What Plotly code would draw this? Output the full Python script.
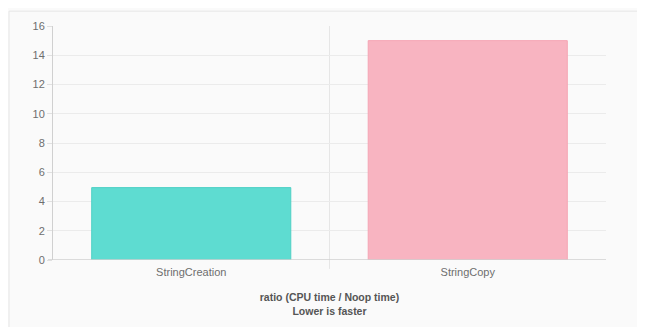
import plotly.graph_objects as go

categories = ["StringCreation", "StringCopy"]
values = [4.95, 15.0]
bar_colors = ["#5EDCD1", "#F8B4C1"]
line_colors = ["#4FD0C5", "#F5A5B4"]
y_ticks = [0, 2, 4, 6, 8, 10, 12, 14, 16]

fig = go.Figure()
fig.add_trace(go.Bar(
    x=categories, y=values, width=0.72,
    marker=dict(color=bar_colors, line=dict(color=line_colors, width=1)),
    hoverinfo="skip",
))

font_family = "Liberation Sans, Arial, Helvetica, sans-serif"

W, H = 637, 319
L, R, T, B = 45, 39, 16, 67
pw, ph = W - L - R, H - T - B

fig.update_layout(
    width=W, height=H,
    margin=dict(l=L, r=R, t=T, b=B),
    paper_bgcolor="#FAFAFA",
    plot_bgcolor="rgba(0,0,0,0)",
    showlegend=False,
    font=dict(family=font_family, size=11, color="#666666"),
    xaxis=dict(
        range=[-0.5, 1.5],
        showgrid=False, zeroline=False,
        showline=False,
        ticks="", tickfont=dict(size=11, color="#6E6E6E"),
        ticklabelstandoff=4,
        title=dict(text="<b>ratio (CPU time / Noop time)<br>Lower is faster</b>",
                   font=dict(size=10.5, color="#555555"), standoff=16),
    ),
    yaxis=dict(
        range=[0, 16], tickvals=y_ticks,
        showgrid=True, gridcolor="#EBEBEB", gridwidth=1,
        zeroline=False,
        showline=True, linecolor="#D0D0D0", linewidth=1,
        ticks="outside", ticklen=5, tickcolor="#E0E0E0",
        tickfont=dict(size=11, color="#6E6E6E"),
    ),
    shapes=[
        # outer panel border
        dict(type="rect", xref="paper", yref="paper", layer="below",
             x0=-(L - 1) / pw, x1=1 + (R + 5) / pw, y0=-(B + 5) / ph, y1=1 + (T - 1) / ph,
             fillcolor="rgba(0,0,0,0)", line=dict(color="#E6E6E6", width=1)),
        # category boundary gridline
        dict(type="line", xref="x", yref="paper", layer="below",
             x0=0.5, x1=0.5, y0=-9 / ph, y1=1,
             line=dict(color="#E6E6E6", width=1)),
        # x axis line
        dict(type="line", xref="paper", yref="y", layer="above",
             x0=-5 / pw, x1=1, y0=0, y1=0,
             line=dict(color="#D0D0D0", width=1.5)),
    ],
)

fig.write_html("out.html")
